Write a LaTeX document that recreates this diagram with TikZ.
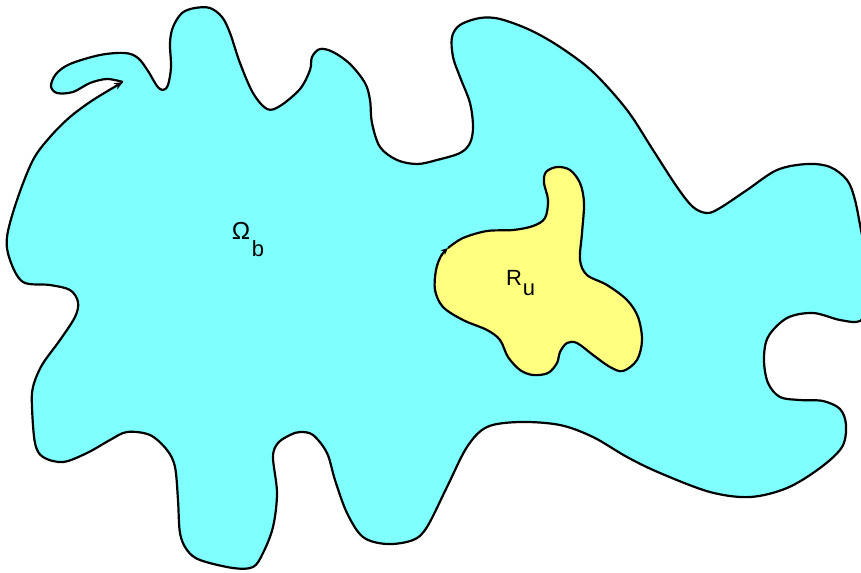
\documentclass[tikz,border=0pt]{standalone}
\usepackage{fontspec}
\setmainfont{Liberation Sans}
\usetikzlibrary{arrows.meta}

\definecolor{domcyan}{RGB}{128,255,255}
\definecolor{domyellow}{RGB}{255,255,128}

\begin{document}
\begin{tikzpicture}[
  x=0.02cm, y=-0.02cm,
  region/.style={draw=black,line width=1.25pt,line join=round},
  lbl/.style={font=\fontsize{12.5}{15}\selectfont,inner sep=0pt}]
\useasboundingbox (0,0) rectangle (861,572);
\clip (0,0) rectangle (861,572);
% outer domain
\draw[region,fill=domcyan,-{Stealth[length=5pt,width=4pt,open]}] plot[smooth,tension=0.55] coordinates {
 (123,82) (107,79) (90,83) (73,92) (57,93) (51,86) (56,74) (70,64) (100,55) (125,53)
 (138,58) (148,71) (157,86) (163,90) (168,85) (171,67) (170,43) (173,27) (182,13) (195,8)
 (210,8) (222,17) (230,33) (240,63) (253,93) (267,109) (280,106) (300,89) (310,70) (312,57)
 (320,49) (333,52) (350,64) (365,83) (370,100) (372,123) (380,147) (397,160) (417,164) (437,160)
 (460,153) (470,143) (473,127) (470,103) (460,77) (453,57) (452,37) (460,25) (480,18) (500,19)
 (530,30) (560,47) (593,72) (627,110) (653,150) (677,187) (693,207) (707,213) (720,208) (747,190)
 (777,170) (807,164) (830,167) (847,180) (855,200) (862,235) (870,270) (868,305) (860,321) (840,320)
 (813,313) (787,318) (768,337) (764,360) (768,383) (780,397) (800,400) (823,401) (840,409) (846,425)
 (842,447) (820,468) (787,488) (750,497) (710,492) (660,473) (627,457) (593,437) (560,425) (520,422)
 (487,427) (467,447) (447,487) (427,527) (413,540) (387,544) (363,537) (347,513) (335,480) (327,453)
 (313,435) (300,432) (290,435) (278,443) (273,457) (277,493) (273,527) (263,553) (253,567) (233,568)
 (200,560) (187,550) (180,533) (178,500) (175,467) (167,450) (150,435) (127,432) (110,440) (87,453)
 (63,462) (43,457) (35,443) (32,407) (33,387) (42,365) (60,340) (75,317) (78,302) (70,290)
 (50,285) (23,282) (10,260) (7,237) (17,200) (33,160) (50,137) (70,117) (93,100) (123,82)};
% inner region
\draw[region,fill=domyellow,-{Stealth[length=4pt,width=3.5pt]}] plot[smooth,tension=0.55] coordinates {
 (448,248) (463,238) (487,231) (513,230) (533,226) (545,218) (548,200) (544,183) (546,172) (557,167)
 (570,170) (580,183) (584,203) (582,233) (580,260) (587,275) (607,285) (627,300) (638,317) (642,340)
 (637,360) (623,371) (610,367) (593,355) (577,343) (567,343) (560,352) (557,363) (548,373) (533,375)
 (520,370) (508,357) (500,340) (487,330) (463,320) (443,307) (435,290) (436,270) (441,256) (448,248)};
\node[lbl,font=\fontsize{14}{16}\selectfont] (omega) at (241,231) {Ω};
\node[lbl] (omegasub) at (258,249) {b};
\node[lbl] (ru) at (514,278) {R};
\node[lbl] (rusub) at (529,290) {u};
\end{tikzpicture}
\end{document}
